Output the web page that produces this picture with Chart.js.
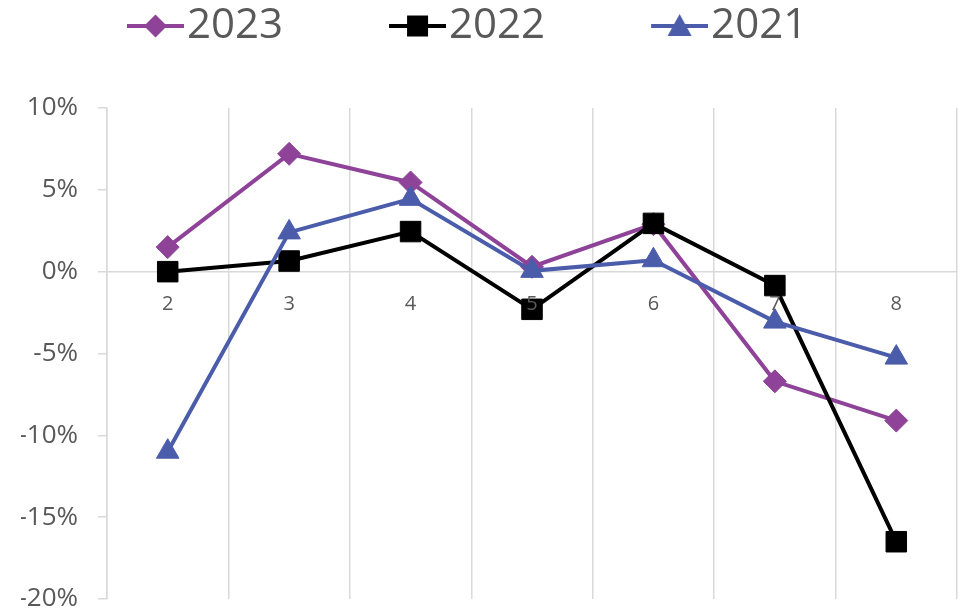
<!DOCTYPE html>
<html>
<head>
<meta charset="utf-8">
<script src="https://cdn.jsdelivr.net/npm/chart.js@4/dist/chart.umd.min.js"></script>
<style>
  html, body { margin: 0; padding: 0; background: #ffffff; }
  #wrap { width: 966px; height: 611px; position: relative; }
</style>
</head>
<body>
<div id="wrap"><canvas id="growthChart"></canvas></div>
<script>
// months on the x axis
const months = ['2', '3', '4', '5', '6', '7', '8'];
// year-on-year change, in percent
const values2023 = [1.5, 7.2, 5.45, 0.3, 2.9, -6.7, -9.1];
const values2022 = [0, 0.65, 2.45, -2.3, 2.95, -0.85, -16.5];
const values2021 = [-11.0, 2.4, 4.45, 0.05, 0.7, -3.05, -5.25];
const seriesNames = ['2023', '2022', '2021'];

const purple = '#8e4399';
const black = '#000000';
const blue = '#4b5caa';
const grey = '#d9d9d9';
const textGrey = '#595959';

Chart.defaults.font.family = "'Open Sans', sans-serif";

// legend icon: short line with the marker in the middle
function legendIcon(color, shape) {
    const c = document.createElement('canvas');
    c.width = 176;
    c.height = 30;
    const g = c.getContext('2d');
    g.strokeStyle = color;
    g.fillStyle = color;
    g.lineWidth = 4;
    g.beginPath();
    g.moveTo(119, 15);
    g.lineTo(176, 15);
    g.stroke();
    const cx = 147.5, cy = 15;
    g.beginPath();
    if (shape === 'diamond') {
        g.moveTo(cx, cy - 11.5); g.lineTo(cx + 11.5, cy); g.lineTo(cx, cy + 11.5); g.lineTo(cx - 11.5, cy);
    } else if (shape === 'square') {
        g.rect(cx - 10.5, cy - 10.5, 21, 21);
    } else {
        g.moveTo(cx, cy - 12); g.lineTo(cx + 12, cy + 10); g.lineTo(cx - 12, cy + 10);
    }
    g.closePath();
    g.fill();
    return c;
}

const icons = [
    legendIcon(purple, 'diamond'),
    legendIcon(black, 'square'),
    legendIcon(blue, 'triangle')
];

// leave room under the legend, like the original
const legendSpacer = {
    id: 'legendSpacer',
    afterInit(chart) {
        const fit = chart.legend.fit;
        chart.legend.fit = function () {
            fit.call(this);
            this.height = 108;
        };
    }
};

function series(label, data, color, style, radius, order) {
    return {
        label: label,
        data: data,
        borderColor: color,
        backgroundColor: color,
        borderWidth: 4,
        pointStyle: style,
        pointRadius: radius,
        pointHoverRadius: radius,
        pointBorderWidth: 1,
        tension: 0,
        order: order
    };
}

new Chart(document.getElementById('growthChart'), {
    type: 'line',
    data: {
        labels: months,
        datasets: [
            series(seriesNames[0], values2023, purple, 'rectRot', 11.5, 3),
            series(seriesNames[1], values2022, black, 'rect', 14.5, 2),
            series(seriesNames[2], values2021, blue, 'triangle', 13, 1)
        ]
    },
    options: {
        responsive: true,
        maintainAspectRatio: false,
        animation: false,
        layout: {
            autoPadding: false,
            padding: { left: 21, right: 9, top: 0, bottom: 0 }
        },
        plugins: {
            tooltip: { enabled: false },
            legend: {
                position: 'top',
                align: 'start',
                labels: {
                    usePointStyle: true,
                    pointStyleWidth: 140,
                    padding: 5,
                    color: textGrey,
                    font: { size: 42 },
                    generateLabels: function (chart) {
                        return chart.data.datasets.map((ds, i) => ({
                            text: ds.label,
                            pointStyle: icons[i],
                            fillStyle: ds.borderColor,
                            strokeStyle: ds.borderColor,
                            lineWidth: 0,
                            fontColor: textGrey,
                            hidden: false,
                            datasetIndex: i
                        }));
                    }
                }
            }
        },
        scales: {
            x: {
                position: { y: 0 },
                offset: true,
                afterFit: function (scale) {
                    scale.paddingLeft = 0;
                    scale.paddingRight = 0;
                },
                grid: { offset: true, color: grey, lineWidth: 1.5, drawTicks: false },
                border: { color: grey, width: 1.5 },
                // month labels sit on top of the markers
                ticks: { z: 1, color: textGrey, font: { size: 20 }, padding: 21 }
            },
            y: {
                min: -20,
                max: 10,
                afterFit: function (scale) {
                    scale.width = 86;
                    scale.paddingTop = 12;
                    scale.paddingBottom = 12;
                },
                grid: { drawOnChartArea: false, drawTicks: true, tickLength: 9, color: grey, lineWidth: 1.5 },
                border: { color: grey, width: 1.5 },
                ticks: {
                    stepSize: 5,
                    color: textGrey,
                    padding: 20,
                    font: { size: 26, lineHeight: 1.1 },
                    callback: v => v + '%'
                }
            }
        }
    },
    plugins: [legendSpacer]
});
</script>
</body>
</html>
